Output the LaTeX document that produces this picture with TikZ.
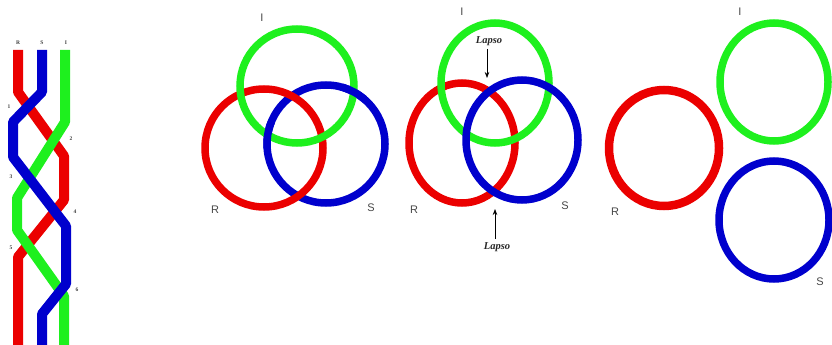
\documentclass[tikz,border=0pt]{standalone}
\usepackage{fontspec}
\setmainfont{Liberation Serif}
\setsansfont{Liberation Sans}
\usetikzlibrary{arrows.meta}
\definecolor{cR}{RGB}{235,0,0}
\definecolor{cG}{RGB}{30,240,30}
\definecolor{cB}{RGB}{0,0,205}
\definecolor{cT}{RGB}{70,70,70}
\begin{document}
\begin{tikzpicture}[x=1pt,y=-1pt,
  strand/.style={line width=10pt,line join=round},
  ring/.style={line width=7.5pt},
  lab/.style={font=\sffamily\fontsize{11}{11}\selectfont,text=cT,inner sep=0pt},
  tiny/.style={font=\bfseries\fontsize{5.5}{5.5}\selectfont,text=black!75,inner sep=0pt},
  lapso/.style={font=\bfseries\itshape\fontsize{10.5}{10.5}\selectfont,text=black!85,inner sep=0pt},
  arr/.style={-{Stealth[length=6pt,width=4.5pt]},line width=0.7pt}]
\useasboundingbox (0,0) rectangle (832,345);
% ---------------- braid ----------------
\draw[strand,cR] (18,50) -- (18,92) -- (64,156) -- (64,200) -- (18,257) -- (18,345);
\draw[strand,cG] (65,50) -- (65,122) -- (17,198) -- (17,230) -- (64,296) -- (64,345);
\draw[strand,cB] (42,50) -- (42,92) -- (13,122) -- (13,157) -- (66,226) -- (66,284) -- (42,314) -- (42,345);
\node[tiny] (tR) at (18,43) {R};
\node[tiny] (tS) at (42,43) {S};
\node[tiny] (tI) at (66,43) {I};
\node[tiny] (c1) at (9,107) {1};
\node[tiny] (c2) at (71,139) {2};
\node[tiny] (c3) at (11,177) {3};
\node[tiny] (c4) at (75,212) {4};
\node[tiny] (c5) at (11,248) {5};
\node[tiny] (c6) at (77,290) {6};
% ---------------- Borromean rings ----------------
\draw[ring,cB] (326,144) circle[radius=59];
\draw[ring,cR] (264,148) circle[radius=59];
\draw[ring,cG] (297,86) circle[radius=57];
\begin{scope}
  \clip (267.7,134.9) circle[radius=14] (353.7,91.9) circle[radius=14];
  \draw[ring,cB] (326,144) circle[radius=59];
\end{scope}
\node[lab] (I1) at (262,18) {I};
\node[lab] (R1) at (215,210) {R};
\node[lab] (S1) at (371,208) {S};
% ---------------- rings with lapses ----------------
\draw[ring,cR] (462,143) ellipse[x radius=53,y radius=60];
\draw[ring,cG] (495,83) ellipse[x radius=54,y radius=60];
\draw[ring,cB] (522,140) ellipse[x radius=56,y radius=60];
\node[lab] (I2) at (462,12) {I};
\node[lab] (R2) at (414,210) {R};
\node[lab] (S2) at (565,206) {S};
\node[lapso] (L1) at (489,41) {Lapso};
\coordinate (p1) at (487,78);
\draw[arr,shorten <=3pt] (L1.south -| p1) -- (p1);
\node[lapso] (L2) at (497,247) {Lapso};
\coordinate (p2) at (495,209);
\draw[arr,shorten <=3pt] (L2.north -| p2) -- (p2);
% ---------------- separate rings ----------------
\draw[ring,cG] (774,82) ellipse[x radius=54,y radius=59];
\draw[ring,cR,line width=8.5pt] (664,148) ellipse[x radius=55,y radius=58];
\draw[ring,cB] (774,220) ellipse[x radius=55,y radius=59];
\node[lab] (I3) at (740,12) {I};
\node[lab] (R3) at (615,212) {R};
\node[lab] (S3) at (820,282) {S};
\end{tikzpicture}
\end{document}
